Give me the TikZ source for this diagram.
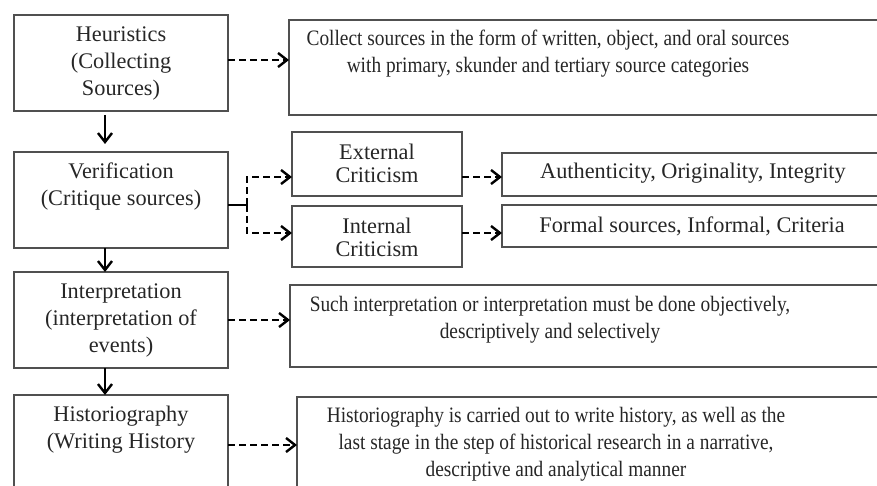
\documentclass[tikz,border=0pt]{standalone}
\usepackage{fontspec}
\setmainfont{Liberation Serif}
\newfontfamily\condfont{Liberation Serif}[FakeStretch=0.88]
\usetikzlibrary{arrows.meta}
\definecolor{boxgray}{HTML}{505050}
\definecolor{txtgray}{HTML}{262626}
\tikzset{
  boxx/.style={draw=boxgray, line width=1.6pt, rectangle, anchor=north west, inner sep=0pt, outer sep=0pt},
  lbl/.style={text=txtgray, align=center, inner sep=0pt, font=\fontsize{22.3}{27}\selectfont},
  clbl/.style={lbl, font=\condfont\fontsize{22}{27}\selectfont},
  tlbl/.style={lbl, font=\fontsize{22.3}{23}\selectfont},
  flow/.style={line width=2.4pt, draw=black, -{Straight Barb[length=9pt,width=14pt,line width=2.4pt]}},
  dflow/.style={flow, dash pattern=on 7pt off 4pt},
}
\begin{document}
\begin{tikzpicture}[x=1pt,y=-1pt]
\useasboundingbox (0,0) rectangle (877,486);
\clip (0,0) rectangle (877,486);
% left column boxes
\node[boxx, minimum width=214pt, minimum height=96pt] (h1) at (14,15) {};
\node[boxx, minimum width=214pt, minimum height=96pt] (v)  at (14,152) {};
\node[boxx, minimum width=214pt, minimum height=96pt] (ip) at (14,272) {};
\node[boxx, minimum width=214pt, minimum height=110pt] (hs) at (14,395) {};
% right boxes
\node[boxx, minimum width=620pt, minimum height=95pt] (r1) at (289,20) {};
\node[boxx, minimum width=170pt, minimum height=64pt] (ext) at (292,132) {};
\node[boxx, minimum width=170pt, minimum height=61pt] (int) at (292,206) {};
\node[boxx, minimum width=420pt, minimum height=43pt] (auth) at (502,153) {};
\node[boxx, minimum width=420pt, minimum height=42pt] (form) at (502,205) {};
\node[boxx, minimum width=620pt, minimum height=82pt] (r3) at (290,285) {};
\node[boxx, minimum width=620pt, minimum height=110pt] (r4) at (297,397) {};
% texts
\node[lbl] (h1t) at (121,63.5) {Heuristics\\(Collecting\\Sources)};
\node[lbl] (vt) at (121,186.5) {Verification\\(Critique sources)};
\node[lbl] (ipt) at (121,320) {Interpretation\\(interpretation of\\events)};
\node[lbl] (hst) at (121,430) {Historiography\\(Writing History};
\node[clbl] (r1t) at (548,54) {Collect sources in the form of written, object, and oral sources\\with primary, skunder and tertiary source categories};
\node[tlbl] (extt) at (377,163.5) {External\\Criticism};
\node[tlbl] (intt) at (377,237.5) {Internal\\Criticism};
\node[lbl] (autht) at (693,173) {Authenticity, Originality, Integrity};
\node[lbl] (formt) at (692,226) {Formal sources, Informal, Criteria};
\node[clbl] (r3t) at (550,320) {Such interpretation or interpretation must be done objectively,\\descriptively and selectively};
\node[clbl] (r4t) at (556,444) {Historiography is carried out to write history, as well as the\\last stage in the step of historical research in a narrative,\\descriptive and analytical manner};
% vertical flow
\draw[flow, shorten <=4pt, shorten >=8pt] ([xshift=-16pt]h1.south) -- ([xshift=-16pt]v.north);
\draw[flow] ([xshift=-16pt]v.south) -- ([xshift=-16pt]ip.north);
\draw[flow] ([xshift=-16pt]ip.south) -- ([xshift=-16pt]hs.north);
% dashed connectors
\draw[dflow] ([yshift=3pt]h1.east) -- ([yshift=3pt]h1.east -| r1.west);
\draw[dflow] (ip.east) -- (ip.east -| r3.west);
\draw[dflow] ([yshift=-50pt]hs.north east) -- ([yshift=-50pt]hs.north east -| r4.west);
\coordinate (vj) at (247,205);
\draw[line width=2.4pt] ([yshift=-5pt]v.east) -- (vj);
\draw[dflow] (vj) |- ([yshift=-13pt]ext.west);
\draw[dflow] (vj) |- ([yshift=3.5pt]int.west);
\draw[dflow] ([yshift=-13pt]ext.east) -- ([yshift=-13pt]ext.east -| auth.west);
\draw[dflow] ([yshift=3.5pt]int.east) -- ([yshift=3.5pt]int.east -| form.west);
\end{tikzpicture}
\end{document}
